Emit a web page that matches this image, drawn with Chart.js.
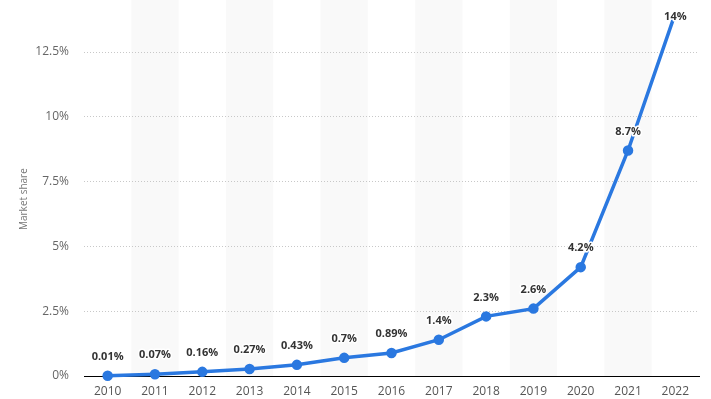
<!DOCTYPE html>
<html>
<head>
<meta charset="utf-8">
<script src="https://cdn.jsdelivr.net/npm/chart.js@4"></script>
<style>
  html, body { margin: 0; padding: 0; background: #fff; }
  #wrap { width: 711px; height: 399px; }
</style>
</head>
<body>
<div id="wrap"><canvas id="share"></canvas></div>
<script>
// chart data
var years = ['2010', '2011', '2012', '2013', '2014', '2015', '2016', '2017', '2018', '2019', '2020', '2021', '2022'];
var shareValues = [0.01, 0.07, 0.16, 0.27, 0.43, 0.7, 0.89, 1.4, 2.3, 2.6, 4.2, 8.7, 14];
var shareLabels = ['0.01%', '0.07%', '0.16%', '0.27%', '0.43%', '0.7%', '0.89%', '1.4%', '2.3%', '2.6%', '4.2%', '8.7%', '14%'];
var yTickValues = [0, 2.5, 5, 7.5, 10, 12.5];

var FONT = '"Open Sans", "DejaVu Sans", sans-serif';

// light bands behind every other year (full canvas height)
var bandPlugin = {
    id: 'bands',
    beforeDraw: function (chart) {
        var ctx = chart.ctx;
        var x = chart.scales.x;
        var area = chart.chartArea;
        var half = (x.getPixelForValue(1) - x.getPixelForValue(0)) / 2;
        ctx.save();
        ctx.fillStyle = '#f9f9f9';
        for (var i = 1; i < years.length; i += 2) {
            var c = x.getPixelForValue(i);
            ctx.fillRect(c - half, 0, half * 2, area.bottom);
        }
        ctx.restore();
    }
};

// value labels above each point
var labelPlugin = {
    id: 'valueLabels',
    afterDatasetsDraw: function (chart) {
        var ctx = chart.ctx;
        var pts = chart.getDatasetMeta(0).data;
        ctx.save();
        ctx.font = 'bold 11px ' + FONT;
        ctx.textAlign = 'center';
        ctx.textBaseline = 'middle';
        ctx.lineJoin = 'round';
        for (var i = 0; i < pts.length; i++) {
            var p = pts[i];
            var ty = p.y - 19;
            if (ty < 8) ty = p.y + 4;
            ctx.strokeStyle = '#fff';
            ctx.lineWidth = 3;
            ctx.strokeText(shareLabels[i], p.x, ty);
            ctx.fillStyle = '#333';
            ctx.fillText(shareLabels[i], p.x, ty);
        }
        ctx.restore();
    }
};

var ctx = document.getElementById('share').getContext('2d');
var chart = new Chart(ctx, {
    type: 'line',
    data: {
        labels: years,
        datasets: [{
            label: 'Market share',
            data: shareValues,
            borderColor: '#2a78e0',
            backgroundColor: '#2a78e0',
            borderWidth: 3.5,
            pointRadius: 3.5,
            pointHoverRadius: 3.5,
            tension: 0,
            clip: false
        }]
    },
    options: {
        responsive: true,
        maintainAspectRatio: false,
        animation: false,
        layout: { padding: { left: 0, right: 12, top: 0, bottom: 0 } },
        plugins: {
            legend: { display: false },
            tooltip: { enabled: false }
        },
        scales: {
            x: {
                offset: true,
                grid: { display: false, drawTicks: false },
                border: { display: true, color: '#000', width: 1 },
                ticks: {
                    color: '#555',
                    padding: 8,
                    font: { family: FONT, size: 12 }
                },
                afterFit: function (scale) { scale.height = 23; }
            },
            y: {
                min: 0,
                max: 13.65,
                afterBuildTicks: function (scale) {
                    scale.ticks = yTickValues.map(function (v) { return { value: v }; });
                },
                grid: {
                    color: '#c8c8c8',
                    drawTicks: false,
                    lineWidth: function (c) { return c.tick.value === 0 ? 0 : 1; }
                },
                border: { display: false, dash: [1, 2] },
                ticks: {
                    color: '#666',
                    padding: 15,
                    font: { family: FONT, size: 12 },
                    callback: function (v) { return v + '%'; }
                },
                title: {
                    display: true,
                    text: 'Market share',
                    color: '#777',
                    padding: { top: 18, bottom: 0 },
                    font: { family: FONT, size: 10 }
                },
                afterFit: function (scale) { scale.width = 84; }
            }
        }
    },
    plugins: [bandPlugin, labelPlugin]
});
</script>
</body>
</html>
